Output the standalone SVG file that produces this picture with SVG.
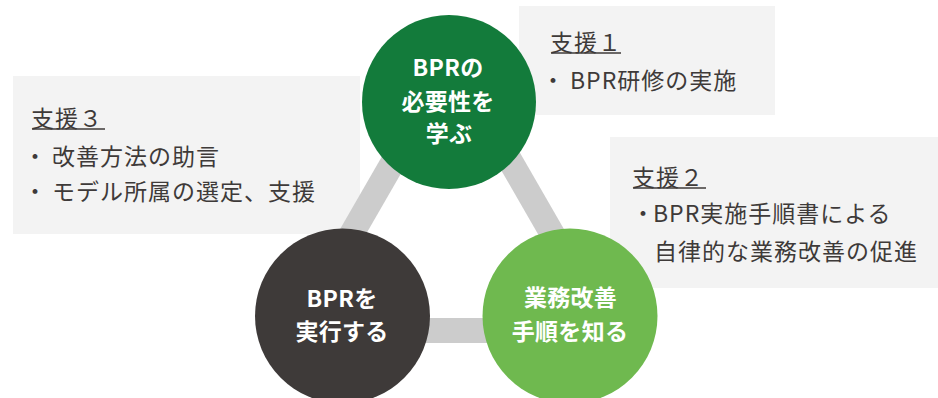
<svg xmlns="http://www.w3.org/2000/svg" width="938" height="398" viewBox="0 0 938 398">
<style>
.box{fill:#f3f3f3}
.bar{stroke:#cccccc;stroke-width:25;fill:none}
.t{font-family:"Noto Sans CJK JP","Noto Sans",sans-serif;font-size:23px;letter-spacing:1px;fill:#3e3a39}
.ul{stroke:#3e3a39;stroke-width:1.4}
.c{font-family:"Noto Sans CJK JP","Noto Sans",sans-serif;font-size:23px;font-weight:700;letter-spacing:0.3px;fill:#ffffff;text-anchor:middle}
.b{font-family:"Noto Sans CJK JP","Noto Sans",sans-serif;font-size:23px;font-weight:900;fill:#3e3a39;text-anchor:middle}
</style>
<rect width="938" height="398" fill="#ffffff"/>
<g id="support1">
<rect class="box" x="519" y="6" width="256" height="109"/>
<text class="t" x="550" y="51">支援１</text>
<line class="ul" x1="551" y1="53" x2="621" y2="53"/>
<text class="b" x="553" y="89">･</text>
<text class="t" x="570" y="89">BPR研修の実施</text>
</g>
<g id="support2">
<rect class="box" x="610" y="137" width="328" height="151"/>
<text class="t" x="632" y="186">支援２</text>
<line class="ul" x1="633" y1="188" x2="706" y2="188"/>
<text class="b" x="643" y="222">･</text>
<text class="t" x="653" y="222">BPR実施手順書による</text>
<text class="t" x="654" y="260">自律的な業務改善の促進</text>
</g>
<g id="support3">
<rect class="box" x="13" y="76" width="347" height="158"/>
<text class="t" x="31" y="127">支援３</text>
<line class="ul" x1="32" y1="129" x2="105" y2="129"/>
<text class="b" x="35" y="165">･</text>
<text class="t" x="52" y="165">改善方法の助言</text>
<text class="b" x="35" y="200">･</text>
<text class="t" x="52" y="200">モデル所属の選定、支援</text>
</g>
<g id="connectors">
<line class="bar" x1="296" y1="330.5" x2="608" y2="330.5"/>
<line class="bar" x1="296" y1="330.5" x2="452" y2="60"/>
<line class="bar" x1="608" y1="330.5" x2="452" y2="60"/>
</g>
<g id="learn">
<circle cx="449" cy="102" r="87" fill="#137b3b"/>
<text class="c" x="448" y="76">BPRの</text>
<text class="c" x="448" y="110">必要性を</text>
<text class="c" x="449" y="142">学ぶ</text>
</g>
<g id="execute">
<circle cx="342.5" cy="316" r="87.5" fill="#3e3a39"/>
<text class="c" x="342" y="307">BPRを</text>
<text class="c" x="342" y="340">実行する</text>
</g>
<g id="know">
<circle cx="570" cy="316" r="87.5" fill="#6fb94f"/>
<text class="c" x="570.5" y="306">業務改善</text>
<text class="c" x="570" y="340">手順を知る</text>
</g>
</svg>
